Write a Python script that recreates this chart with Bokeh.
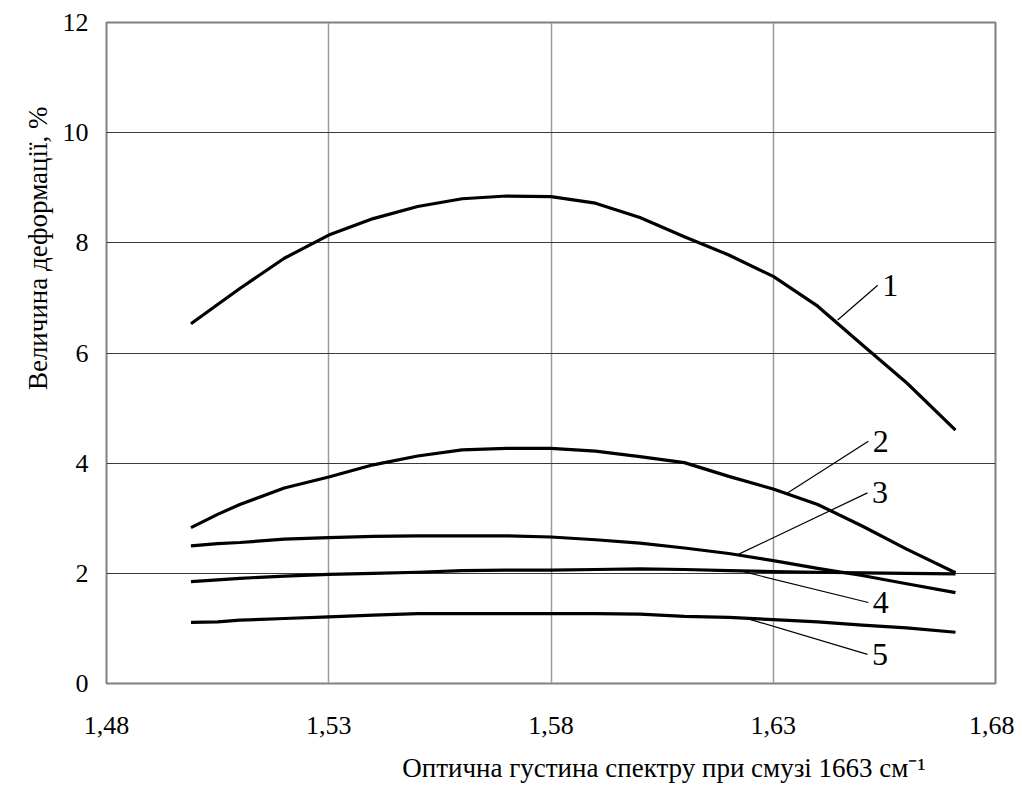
from bokeh.plotting import figure
from bokeh.models import FixedTicker, Label, Title
from bokeh.embed import file_html
from bokeh.resources import INLINE

# ---- data ----
x_vals = [1.499, 1.505, 1.51, 1.52, 1.53, 1.54, 1.55, 1.56, 1.57, 1.58,
          1.59, 1.60, 1.61, 1.62, 1.63, 1.64, 1.65, 1.66, 1.671]
curve1 = [6.53, 6.88, 7.17, 7.72, 8.14, 8.44, 8.66, 8.80, 8.85, 8.84,
          8.72, 8.46, 8.11, 7.78, 7.39, 6.85, 6.15, 5.46, 4.60]
curve2 = [2.83, 3.07, 3.25, 3.55, 3.75, 3.97, 4.13, 4.24, 4.27, 4.27,
          4.22, 4.12, 4.01, 3.76, 3.53, 3.25, 2.86, 2.44, 2.01]
curve3 = [2.50, 2.54, 2.56, 2.62, 2.65, 2.67, 2.68, 2.68, 2.68, 2.66,
          2.61, 2.55, 2.46, 2.36, 2.23, 2.09, 1.96, 1.81, 1.65]
curve4 = [1.85, 1.88, 1.91, 1.95, 1.98, 2.00, 2.02, 2.05, 2.06, 2.06,
          2.07, 2.08, 2.07, 2.05, 2.03, 2.02, 2.01, 2.00, 1.99]
curve5 = [1.11, 1.12, 1.15, 1.18, 1.21, 1.24, 1.27, 1.27, 1.27, 1.27,
          1.27, 1.26, 1.22, 1.20, 1.16, 1.12, 1.06, 1.01, 0.93]
series = [curve1, curve2, curve3, curve4, curve5]
series_names = ["1", "2", "3", "4", "5"]

x_ticks = [1.48, 1.53, 1.58, 1.63, 1.68]
x_tick_labels = ["1,48", "1,53", "1,58", "1,63", "1,68"]
y_ticks = [0, 2, 4, 6, 8, 10, 12]

x_title = "Оптична густина спектру при смузі 1663 см⁻¹"
y_title = "Величина деформації, %"

# callout geometry: (curve point x, y), (label anchor x, y)
callouts = [
    ((1.6445, 6.60), (1.6535, 7.23)),
    ((1.6332, 3.46), (1.6514, 4.40)),
    ((1.6220, 2.34), (1.6512, 3.46)),
    ((1.6233, 2.03), (1.6514, 1.47)),
    ((1.6249, 1.16), (1.6512, 0.53)),
]

FONT = "Liberation Serif"

p = figure(width=1014, height=796, x_range=(1.48, 1.68), y_range=(0, 12),
           output_backend="svg", toolbar_location=None,
           min_border_left=106, min_border_right=19,
           min_border_top=22, min_border_bottom=112)
p.background_fill_color = "white"
p.border_fill_color = "white"
p.outline_line_color = "#808080"
p.outline_line_width = 2

for ys in series:
    p.line(x_vals, ys, line_color="black", line_width=3.2, line_join="round")

for name, (a, b) in zip(series_names, callouts):
    p.line([a[0], b[0]], [a[1], b[1]], line_color="black", line_width=1.2)
    p.add_layout(Label(x=b[0] + 0.001, y=b[1], text=name,
                       text_font=FONT, text_font_size="32px",
                       text_color="black", text_align="left",
                       text_baseline="middle"))

p.xaxis.ticker = FixedTicker(ticks=x_ticks)
p.xaxis.major_label_overrides = {t: l for t, l in zip(x_ticks, x_tick_labels)}
p.yaxis.ticker = FixedTicker(ticks=y_ticks)

for ax in (p.xaxis[0], p.yaxis[0]):
    ax.axis_line_color = None
    ax.major_tick_line_color = None
    ax.minor_tick_line_color = None
    ax.major_tick_out = 0
    ax.major_tick_in = 0
    ax.major_label_text_font = FONT
    ax.major_label_text_color = "black"

p.xaxis.major_label_text_font_size = "26px"
p.yaxis.major_label_text_font_size = "26px"
p.xaxis.major_label_standoff = 33
p.yaxis.major_label_standoff = 18

p.xgrid.grid_line_color = "#9a9a9a"
p.xgrid.grid_line_width = 1.5
p.ygrid.grid_line_color = "#3a3a3a"
p.ygrid.grid_line_width = 1

# axis titles
xt = Title(text=x_title, align="right", offset=70, standoff=28,
           text_font=FONT, text_font_size="27px", text_font_style="normal",
           text_color="black")
p.add_layout(xt, "below")
yt = Title(text=y_title, align="right", offset=84, standoff=10,
           vertical_align="top",
           text_font=FONT, text_font_size="27px", text_font_style="normal",
           text_color="black")
p.add_layout(yt, "left")

open("out.html", "w").write(file_html(p, INLINE))
